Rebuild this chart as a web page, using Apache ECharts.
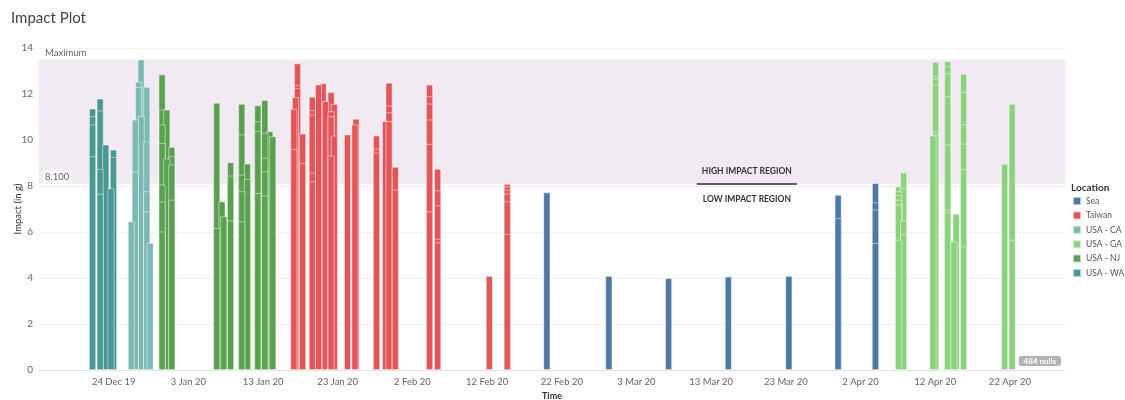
<!DOCTYPE html>
<html>
<head>
<meta charset="utf-8">
<script src="https://cdn.jsdelivr.net/npm/echarts@6/dist/echarts.min.js"></script>
<style>
html,body{margin:0;padding:0;background:#fff;}
#chart{width:1125px;height:400px;}
</style>
</head>
<body>
<div id="chart"></div>
<script>
// ---- DATA: each row = [time, tallest reading, ...other readings at that time] ----
const locations = ['Sea', 'Taiwan', 'USA - CA', 'USA - GA', 'USA - NJ', 'USA - WA'];
const colors = ['#4e79a7', '#e15759', '#7cb9b3', '#8cd17d', '#59a14f', '#499894'];

const seaReadings = [
  ['2020-02-20 00:00', 7.72],
  ['2020-02-28 07:10', 4.09],
  ['2020-03-07 07:10', 3.99],
  ['2020-03-15 07:10', 4.06],
  ['2020-03-23 09:35', 4.09],
  ['2020-03-30 00:00', 7.62, 6.6],
  ['2020-04-04 00:00', 8.13, 7.29, 6.97, 5.52]
];
const taiwanReadings = [
  ['2020-01-17 02:50', 11.35, 9.61],
  ['2020-01-17 08:10', 11.86],
  ['2020-01-17 14:40', 13.33, 12.38, 12.25],
  ['2020-01-18 07:10', 10.28, 9.0],
  ['2020-01-19 14:25', 11.88, 11.3, 11.1, 8.58, 8.2],
  ['2020-01-20 10:05', 12.41],
  ['2020-01-21 01:00', 12.46],
  ['2020-01-21 08:40', 11.69],
  ['2020-01-22 02:40', 12.08, 11.25, 11.03, 9.32],
  ['2020-01-22 13:00', 11.57, 10.19],
  ['2020-01-24 07:25', 10.24],
  ['2020-01-25 07:10', 10.67],
  ['2020-01-25 10:50', 10.92],
  ['2020-01-28 04:30', 10.19, 9.62, 9.45],
  ['2020-01-29 09:35', 10.82],
  ['2020-01-29 20:55', 12.49, 11.5, 11.2, 10.82],
  ['2020-01-30 17:00', 8.83, 7.84],
  ['2020-02-04 07:00', 12.41, 11.9, 11.58, 10.89, 9.83, 6.9],
  ['2020-02-05 08:55', 8.75, 7.81, 7.16, 5.7, 5.55],
  ['2020-02-12 07:10', 4.09],
  ['2020-02-14 16:50', 8.09, 7.98, 7.84, 7.67, 7.33, 5.91]
];
const caReadings = [
  ['2019-12-26 08:40', 6.46],
  ['2019-12-26 21:20', 10.89, 8.62],
  ['2019-12-27 08:10', 12.53, 12.3],
  ['2019-12-27 16:05', 13.5, 11.03],
  ['2019-12-28 10:20', 12.31, 9.93, 7.77, 6.9],
  ['2019-12-28 21:10', 5.53]
];
const gaReadings = [
  ['2020-04-07 02:25', 7.98, 7.77, 7.6, 7.4, 7.19, 5.66],
  ['2020-04-07 18:15', 8.59, 7.9, 6.5, 5.9],
  ['2020-04-11 16:50', 10.19],
  ['2020-04-12 01:10', 13.4, 12.77, 12.66, 12.41, 10.38, 10.24],
  ['2020-04-13 16:05', 13.43, 13.2, 12.9, 11.9, 9.8, 6.97, 6.85],
  ['2020-04-14 12:00', 5.59],
  ['2020-04-14 19:10', 6.79],
  ['2020-04-15 19:10', 12.88, 12.08, 10.67, 9.84, 8.74, 5.37],
  ['2020-04-21 07:10', 8.96],
  ['2020-04-22 07:10', 11.57, 5.66]
];
const njReadings = [
  ['2019-12-30 11:30', 12.85, 11.32, 10.67, 9.87, 8.06, 7.33, 6.02],
  ['2019-12-31 02:40', 11.32, 9.2],
  ['2019-12-31 18:40', 9.7, 9.29, 8.93, 7.4],
  ['2020-01-06 19:10', 11.62, 6.17],
  ['2020-01-07 12:00', 7.33],
  ['2020-01-07 17:45', 6.68],
  ['2020-01-08 15:35', 9.03, 8.45, 6.5],
  ['2020-01-10 03:35', 11.57, 10.24, 8.49, 7.77, 6.46],
  ['2020-01-10 21:35', 8.97, 8.3],
  ['2020-01-12 07:10', 11.51, 10.81, 10.38, 7.69],
  ['2020-01-13 05:30', 11.73, 10.31, 9.22, 8.64, 7.59],
  ['2020-01-13 21:35', 10.38],
  ['2020-01-14 07:10', 10.16]
];
const waReadings = [
  ['2019-12-21 04:00', 11.37, 11.03, 10.67, 9.29],
  ['2019-12-22 04:30', 11.8, 11.28, 8.74, 7.66],
  ['2019-12-22 22:30', 9.8],
  ['2019-12-23 15:20', 7.9],
  ['2019-12-23 23:15', 9.58, 9.26]
];

const thresholdValue = 8.1;
const maximumValue = 13.5;
const axisStartDate = '2019-12-14 00:00';
const axisEndDate = '2020-04-29 09:00';
const tickDays = 10;
const nullCount = 484;
const annotationFrom = '2020-03-11 02:00';
const annotationTo = '2020-03-24 11:30';

// ---- helpers ----
const BASE = Date.UTC(2019, 11, 24);
const MONTHS = ['Jan','Feb','Mar','Apr','May','Jun','Jul','Aug','Sep','Oct','Nov','Dec'];
function toDay(s) {
  const [d, t] = s.split(' ');
  const [Y, M, D] = d.split('-').map(Number);
  const [h, mi] = t.split(':').map(Number);
  return (Date.UTC(Y, M - 1, D, h, mi) - BASE) / 86400000;
}
function expand(rows) {
  const out = [];
  rows.forEach(r => {
    const x = toDay(r[0]);
    r.slice(1).forEach(v => out.push([x, v]));
  });
  out.sort((a, b) => b[1] - a[1]);
  return out;
}
function fmtDay(v) {
  const dt = new Date(BASE + Math.round(v) * 86400000);
  return dt.getUTCDate() + ' ' + MONTHS[dt.getUTCMonth()] + ' ' + String(dt.getUTCFullYear()).slice(2);
}

const allReadings = [seaReadings, taiwanReadings, caReadings, gaReadings, njReadings, waReadings];
const FONT = 'Lato, "Open Sans", sans-serif';
const HIDDEN = 'rgba(0,0,0,0)';

const series = locations.map((name, i) => {
  const s = {
    name: name,
    type: 'bar',
    barWidth: 7,
    barGap: '-100%',
    data: expand(allReadings[i]),
    itemStyle: {
      color: colors[i],
      borderColor: 'rgba(255,255,255,0.6)',
      borderWidth: 0.8
    },
    emphasis: { disabled: true }
  };
  if (i === 0) {
    s.markArea = {
      silent: true,
      itemStyle: { color: '#f2eaf3' },
      data: [[{ yAxis: thresholdValue }, { yAxis: maximumValue }]]
    };
    const x1 = toDay(annotationFrom), x2 = toDay(annotationTo);
    s.markLine = {
      silent: true,
      symbol: ['none', 'none'],
      data: [
        { yAxis: maximumValue, lineStyle: { color: HIDDEN, width: 1 },
          label: { show: true, position: 'insideStartTop', formatter: 'Maximum', distance: [6, 2],
                   color: '#666', fontSize: 9.5, fontFamily: FONT } },
        { yAxis: thresholdValue, lineStyle: { color: HIDDEN, width: 1 },
          label: { show: true, position: 'insideStartTop', formatter: thresholdValue.toFixed(3), distance: [4, 1],
                   color: '#666', fontSize: 9.5, fontFamily: FONT,
                   backgroundColor: 'rgba(255,255,255,0.85)', padding: [1, 2] } },
        [{ coord: [x1, thresholdValue], lineStyle: { color: '#555', width: 1.5, type: 'solid' },
           label: { show: true, position: 'insideMiddleTop', formatter: 'HIGH IMPACT REGION', distance: 8,
                    color: '#333', fontSize: 8.5, fontWeight: 'bold', fontFamily: FONT } },
         { coord: [x2, thresholdValue] }],
        [{ coord: [x1, thresholdValue], lineStyle: { color: '#555', width: 1.5, type: 'solid' },
           label: { show: true, position: 'insideMiddleBottom', formatter: 'LOW IMPACT REGION', distance: 11,
                    color: '#333', fontSize: 8.5, fontWeight: 'bold', fontFamily: FONT } },
         { coord: [x2, thresholdValue] }]
      ]
    };
  }
  return s;
});

const chart = echarts.init(document.getElementById('chart'));
chart.setOption({
  animation: false,
  backgroundColor: '#fff',
  textStyle: { fontFamily: FONT },
  title: {
    text: 'Impact Plot', left: 6, top: 6,
    textStyle: { fontSize: 15, fontWeight: 'normal', color: '#444', fontFamily: FONT }
  },
  grid: { left: 39, right: 60, top: 48, bottom: 30, containLabel: false, outerBoundsMode: 'none' },
  legend: {
    orient: 'vertical', left: 1072, top: 195, padding: 0,
    data: locations,
    icon: 'rect', itemWidth: 8, itemHeight: 8, itemGap: 2.4,
    textStyle: { fontSize: 8.5, color: '#555', lineHeight: 12, fontFamily: FONT }
  },
  xAxis: {
    type: 'value',
    min: toDay(axisStartDate),
    max: toDay(axisEndDate),
    interval: tickDays,
    name: 'Time', nameLocation: 'middle', nameGap: 22, nameMoveOverlap: false,
    nameTextStyle: { fontSize: 9, color: '#333', fontWeight: 'bold' },
    axisLine: { show: true, lineStyle: { color: '#e4e4e4' } },
    axisTick: { show: false },
    splitLine: { show: false },
    axisLabel: { showMinLabel: false, showMaxLabel: false, formatter: fmtDay, color: '#666', fontSize: 9.5, margin: 7 }
  },
  yAxis: {
    type: 'value', min: 0, max: 14, interval: 2,
    name: 'Impact (in g)', nameLocation: 'middle', nameGap: 16, nameMoveOverlap: false,
    nameTextStyle: { fontSize: 9.5, color: '#333' },
    axisLine: { show: false }, axisTick: { show: false },
    splitLine: { lineStyle: { color: '#f0f0f0' } },
    axisLabel: { color: '#666', fontSize: 10, margin: 6 }
  },
  graphic: [
    { type: 'text', left: 1071, top: 183,
      style: { text: 'Location', fontSize: 10, fontWeight: 'bold', fill: '#333', fontFamily: FONT } },
    { type: 'text', right: 64, top: 356,
      style: { text: nullCount + ' nulls', fontSize: 8, fontWeight: 'bold', fill: '#fff', fontFamily: FONT,
               backgroundColor: '#b3b3b3', padding: [1, 5], borderRadius: 3 } }
  ],
  series: series
});
</script>
</body>
</html>
